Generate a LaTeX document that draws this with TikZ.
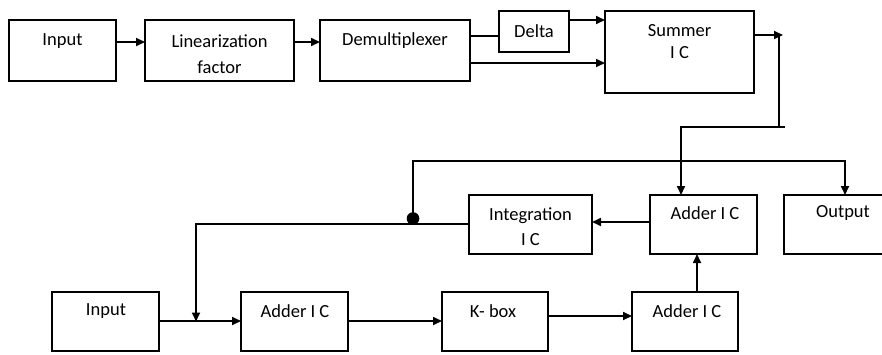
\documentclass[tikz,border=0pt]{standalone}
\usepackage{fontspec}
\setmainfont{Carlito}
\usetikzlibrary{arrows.meta}
\begin{document}
\begin{tikzpicture}[x=1pt,y=-1pt,
  box/.style={draw,line width=1.7pt,inner sep=0pt,outer sep=0pt,minimum height=#1},
  box/.default=61pt,
  lbl/.style={font=\fontsize{18.5}{26}\selectfont,align=center,inner sep=0pt},
  ln/.style={line width=1.7pt},
  arr/.style={line width=1.7pt,-{Triangle[length=9pt,width=8pt]}}]
\useasboundingbox (0,0) rectangle (882,354);
\clip (0,0) rectangle (882,354);
% boxes
\node[box,minimum width=107pt] (inA) at (62.5,50.5) {};
\node[box,minimum width=149pt] (lin) at (219.5,50.5) {};
\node[box,minimum width=150pt] (demux) at (395,50.5) {};
\node[box=41pt,minimum width=70pt] (delta) at (534,31.5) {};
\node[box=82pt,minimum width=149pt] (sum) at (679.5,52) {};
\node[box=59pt,minimum width=123pt] (integ) at (530.5,224.5) {};
\node[box=59pt,minimum width=107pt] (addM) at (703.5,224.5) {};
\node[box=59pt,minimum width=118pt] (out) at (843,224.5) {};
\node[box=59pt,minimum width=107pt] (inB) at (105.5,321.5) {};
\node[box=59pt,minimum width=107pt] (addB) at (294.5,321.5) {};
\node[box=59pt,minimum width=106pt] (kbox) at (495,321.5) {};
\node[box=59pt,minimum width=106pt] (addR) at (685,321.5) {};
% labels
\node[lbl] (tInA) at (62.5,41) {Input};
\node[lbl] (tLin) at (219.5,54) {Linearization\\factor};
\node[lbl] (tDemux) at (395,41) {Demultiplexer};
\node[lbl] (tDelta) at (534,31) {Delta};
\node[lbl,font=\fontsize{18.5}{22}\selectfont] (tSum) at (679.5,41.5) {Summer\\I C};
\node[lbl,font=\fontsize{18.5}{25}\selectfont] (tInteg) at (530.5,227) {Integration\\I C};
\node[lbl] (tAddM) at (705,213) {Adder I C};
\node[lbl] (tOut) at (843,213) {Output};
\node[lbl] (tInB) at (106,311) {Input};
\node[lbl] (tAddB) at (295,311) {Adder I C};
\node[lbl] (tK) at (493,311) {K- box};
\node[lbl] (tAddR) at (687,311) {Adder I C};
% coordinates
\coordinate (sOut) at (783,35);
\coordinate (c1) at (779,127);
\coordinate (c2) at (785,127);
\coordinate (dot) at (413,224);
\coordinate (c3) at (196,224);
% connectors top row
\draw[arr] (inA.east |- 0,42) -- (lin.west |- 0,42);
\draw[arr] (lin.east |- 0,42) -- (demux.west |- 0,42);
\draw[ln] (demux.east |- 0,36) -- (delta.west |- 0,36);
\draw[arr] (delta.east |- 0,20) -- (sum.west |- 0,20);
\draw[arr] (demux.east |- 0,63) -- (sum.west |- 0,63);
\draw[arr] (sum.east |- sOut) -- (sOut);
\draw[ln] (sOut -| c1) -- (c1);
\draw[arr] (c2) -- (681,127) -- (addM.north -| 681,0);
% middle row
\draw[arr] (dot) -- (413,161) -- (845,161) -- (out.north -| 845,0);
\draw[arr] (addM.west |- 0,222) -- (integ.east |- 0,222);
\draw[arr] (integ.west |- dot) -- (c3) -- (inB.east -| c3);
\fill (413,218.5) circle (6.3pt);
% bottom row
\draw[arr] (inB.east |- 0,321) -- (addB.west |- 0,321);
\draw[arr] (addB.east |- 0,321) -- (kbox.west |- 0,321);
\draw[arr] (kbox.east |- 0,316) -- (addR.west |- 0,316);
\draw[arr] (addR.north -| 697,0) -- (addM.south -| 697,0);
\end{tikzpicture}
\end{document}
